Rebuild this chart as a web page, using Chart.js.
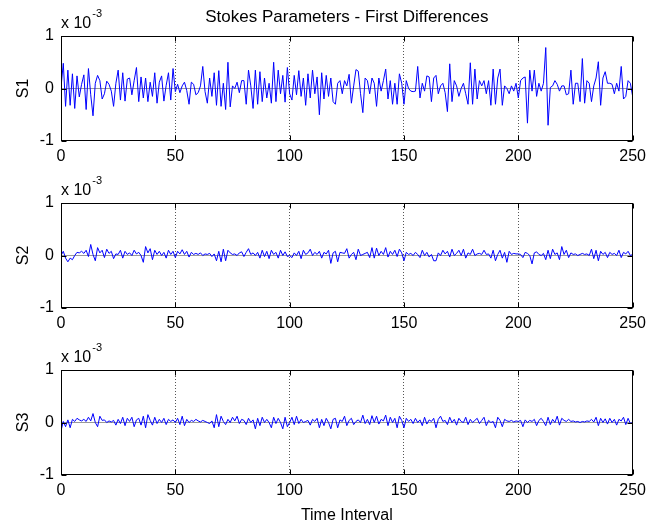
<!DOCTYPE html>
<html>
<head>
<meta charset="utf-8">
<script src="https://cdn.jsdelivr.net/npm/chart.js@4.4.0/dist/chart.umd.min.js"></script>
<style>
    html, body { margin: 0; padding: 0; background: #fff; }
    #wrap { position: relative; width: 652px; height: 527px; overflow: hidden; }
    canvas { position: absolute; left: 0; }
</style>
</head>
<body>
<div id="wrap">
    <canvas id="c1" width="652" height="170" style="top:0px"></canvas>
    <canvas id="c2" width="652" height="170" style="top:167px"></canvas>
    <canvas id="c3" width="652" height="193" style="top:334px"></canvas>
</div>
<script>
// values are in units of 1e-3 (axis label "x 10^-3")
const xTicks = [0, 50, 100, 150, 200, 250];
const yTicks = [-1, 0, 1];
const seriesNames = ['S1', 'S2', 'S3'];

const s1 = [
    0.02, 0.48, -0.34, 0.35, -0.32, 0.28, -0.38, 0.24, -0.16, 0.08,
    0.26, -0.40, 0.38, -0.12, -0.52, 0.10, 0.25, 0.15, -0.20, -0.10,
    0.14, 0.08, -0.05, -0.34, 0.10, 0.35, -0.22, 0.30, -0.24, 0.18,
    0.20, -0.12, 0.15, 0.40, -0.25, 0.22, -0.18, 0.20, -0.25, 0.12,
    -0.15, 0.30, -0.28, 0.12, 0.24, -0.24, 0.06, 0.30, -0.22, 0.38,
    -0.06, 0.08, -0.08, 0.05, 0.12, -0.04, -0.30, 0.12, 0.08, -0.12,
    -0.08, 0.05, 0.42, -0.06, -0.28, 0.20, -0.15, 0.30, -0.32, 0.34,
    -0.34, 0.10, -0.40, 0.50, -0.35, 0.05, 0.00, 0.12, -0.08, 0.15,
    0.15, -0.30, 0.35, 0.05, -0.38, 0.35, -0.30, 0.32, -0.25, 0.20,
    -0.18, 0.10, -0.28, 0.50, -0.25, 0.35, -0.10, 0.25, -0.26, 0.40,
    -0.10, -0.22, 0.25, -0.12, 0.34, -0.15, 0.20, -0.32, 0.28, -0.18,
    0.35, -0.10, 0.22, -0.50, 0.30, -0.20, 0.25, -0.15, 0.20, -0.25,
    -0.30, 0.10, 0.15, -0.10, 0.15, 0.05, 0.27, -0.28, 0.05, 0.36,
    0.33, -0.10, -0.46, 0.20, 0.15, -0.10, 0.20, 0.10, -0.34, 0.20,
    -0.05, 0.15, 0.37, -0.20, 0.15, -0.30, 0.10, -0.30, 0.28, 0.10,
    -0.30, 0.15, 0.00, -0.05, -0.06, -0.05, 0.42, -0.18, 0.10, -0.05,
    0.24, 0.22, -0.25, 0.20, 0.25, -0.10, 0.05, 0.10, -0.08, -0.44,
    0.47, -0.25, 0.15, 0.05, -0.15, 0.00, 0.10, -0.10, -0.30, 0.49,
    -0.30, 0.37, -0.20, 0.15, 0.05, 0.15, -0.10, 0.15, -0.32, 0.37,
    -0.30, 0.20, 0.37, -0.32, 0.05, 0.00, -0.10, 0.05, -0.05, 0.10,
    -0.18, 0.15, 0.20, 0.22, -0.66, 0.35, -0.05, 0.35, -0.15, 0.10,
    -0.05, 0.10, 0.78, -0.70, 0.02, 0.05, 0.15, 0.08, -0.05, 0.05,
    0.05, -0.12, -0.10, 0.35, -0.30, 0.10, 0.10, -0.25, 0.57, -0.28,
    0.15, 0.10, -0.25, 0.05, 0.20, 0.51, -0.32, 0.20, 0.32, 0.10,
    0.10, 0.08, -0.10, 0.10, -0.05, 0.42, -0.20, -0.15, 0.15, 0.10,
    -0.15
];

const s2 = [
    0.00, 0.08, -0.05, -0.12, -0.05, -0.08, 0.00, 0.06, 0.05, 0.08,
    0.04, 0.10, -0.02, 0.21, 0.02, -0.10, 0.15, 0.05, 0.10, -0.04,
    0.12, 0.04, 0.08, -0.06, 0.03, 0.02, 0.10, -0.05, 0.08, 0.02,
    0.05, 0.00, 0.10, 0.03, 0.06, 0.00, -0.13, 0.17, 0.05, 0.13,
    -0.08, 0.10, 0.02, 0.08, 0.00, 0.06, -0.05, 0.10, 0.02, 0.08,
    -0.04, 0.08, 0.03, 0.11, 0.02, 0.08, -0.03, 0.06, 0.02, 0.04,
    0.02, 0.05, 0.00, 0.03, 0.02, 0.04, -0.02, 0.03, -0.10, 0.08,
    -0.12, 0.12, -0.10, 0.10, 0.05, 0.02, 0.03, 0.00, 0.05, 0.07,
    -0.02, 0.06, 0.13, 0.02, 0.05, 0.00, 0.06, -0.05, 0.10, -0.02,
    0.08, -0.06, 0.10, 0.02, 0.06, -0.05, 0.10, 0.00, 0.07, -0.02,
    0.00, -0.04, 0.05, 0.00, 0.08, -0.06, 0.10, 0.02, 0.05, 0.12,
    0.00, 0.06, 0.02, 0.08, -0.05, 0.06, 0.03, 0.10, -0.15, 0.05,
    0.08, -0.12, 0.06, 0.05, 0.04, 0.13, -0.05, 0.02, 0.06, -0.08,
    0.12, 0.00, 0.02, 0.04, 0.06, -0.04, 0.15, -0.05, 0.14, 0.00,
    0.08, 0.02, 0.15, -0.03, 0.08, 0.02, 0.10, -0.02, 0.12, 0.05,
    -0.10, 0.06, 0.02, 0.04, 0.00, 0.06, 0.02, -0.04, 0.10, 0.00,
    0.06, -0.03, 0.02, -0.10, -0.10, 0.05, 0.00, 0.10, 0.03, 0.08,
    -0.03, 0.12, 0.00, 0.04, 0.10, 0.00, 0.12, -0.05, 0.05, 0.02,
    0.12, 0.00, 0.03, 0.04, 0.02, 0.10, 0.02, 0.03, -0.05, 0.10,
    -0.10, 0.02, 0.10, -0.05, 0.06, -0.13, 0.08, 0.02, 0.04, 0.03,
    0.03, 0.02, -0.04, 0.06, 0.04, 0.00, -0.16, 0.05, 0.07, 0.02,
    0.00, 0.04, -0.08, 0.10, -0.06, 0.12, 0.02, 0.05, -0.08, 0.17,
    0.02, 0.10, -0.04, 0.05, 0.02, 0.03, 0.00, 0.02, 0.04, 0.02,
    0.03, 0.00, 0.12, -0.06, 0.10, -0.10, 0.08, 0.02, 0.06, -0.04,
    0.06, 0.02, 0.04, 0.00, 0.10, -0.04, 0.06, 0.03, 0.08, 0.00,
    0.02
];

const s3 = [
    -0.16, 0.02, -0.08, 0.05, -0.10, 0.06, 0.02, 0.08, 0.05, 0.03,
    0.06, 0.02, 0.10, 0.03, 0.17, 0.00, -0.08, 0.12, 0.04, 0.05,
    0.00, 0.03, 0.01, 0.04, -0.05, 0.06, -0.02, 0.10, -0.06, 0.08,
    0.02, 0.10, -0.08, 0.05, 0.08, -0.05, 0.12, -0.10, 0.15, 0.04,
    -0.05, 0.10, -0.02, 0.06, 0.00, 0.08, -0.04, 0.06, 0.02, 0.05,
    0.00, 0.08, -0.04, 0.12, -0.06, 0.06, 0.00, 0.04, 0.02, 0.06,
    0.03, 0.01, 0.04, 0.02, 0.00, -0.02, 0.03, -0.10, 0.15, -0.08,
    0.12, 0.02, -0.04, 0.06, 0.00, 0.10, 0.03, 0.12, -0.02, 0.06,
    0.04, -0.04, 0.08, 0.00, 0.05, -0.12, 0.08, -0.06, 0.10, 0.00,
    0.06, 0.00, -0.10, 0.10, -0.02, 0.08, 0.00, -0.12, 0.10, -0.08,
    0.00, 0.10, -0.04, 0.12, -0.02, 0.06, 0.00, 0.02, 0.04, -0.05,
    0.06, 0.02, 0.08, -0.10, 0.06, -0.06, 0.08, 0.00, -0.12, 0.06,
    0.08, -0.10, 0.05, 0.02, 0.12, -0.06, 0.04, 0.08, -0.04, 0.02,
    0.05, 0.00, 0.14, -0.02, 0.06, -0.04, 0.13, 0.00, 0.12, -0.03,
    0.06, 0.03, 0.14, -0.06, 0.10, 0.00, 0.08, -0.10, 0.12, 0.04,
    -0.10, 0.08, 0.02, 0.06, -0.02, 0.08, 0.00, 0.05, -0.06, 0.10,
    -0.03, 0.05, 0.02, 0.08, -0.10, 0.06, 0.12, 0.02, 0.04, -0.04,
    0.10, 0.00, 0.06, -0.05, 0.08, 0.02, 0.00, 0.10, -0.04, 0.06,
    0.00, 0.04, 0.08, -0.02, 0.04, 0.10, -0.06, 0.04, 0.00, 0.02,
    -0.10, 0.10, 0.04, -0.08, 0.06, 0.03, 0.02, 0.04, 0.01, 0.03,
    0.02, 0.04, -0.08, 0.05, 0.00, 0.04, 0.02, 0.06, -0.06, 0.04,
    0.08, 0.02, -0.06, 0.10, -0.04, 0.06, 0.00, 0.12, -0.05, 0.08,
    0.04, 0.02, 0.06, 0.02, 0.03, 0.01, 0.02, 0.00, 0.02, 0.01,
    0.03, 0.02, 0.06, 0.01, 0.10, -0.06, 0.08, 0.00, 0.07, -0.03,
    0.08, 0.00, 0.06, -0.05, 0.06, 0.03, 0.10, -0.04, 0.08, -0.02,
    0.00
];

const FONT = '"Liberation Sans", Arial, sans-serif';

// matlab-like box with inward ticks and the "x 10^-3" multiplier
const boxPlugin = {
    id: 'box',
    afterDatasetsDraw(chart) {
        const {ctx, chartArea: a, scales: {x, y}} = chart;
        const L = Math.round(a.left) + 0.5, R = Math.round(a.right) - 0.5;
        const T = Math.round(a.top) + 0.5, B = Math.round(a.bottom) - 0.5;
        ctx.save();
        ctx.strokeStyle = '#000';
        ctx.lineWidth = 1;
        ctx.strokeRect(L, T, R - L, B - T);
        ctx.beginPath();
        xTicks.forEach(v => {
            const px = Math.round(x.getPixelForValue(v)) + 0.5;
            ctx.moveTo(px, T); ctx.lineTo(px, T + 5);
            ctx.moveTo(px, B); ctx.lineTo(px, B - 5);
        });
        yTicks.forEach(v => {
            const py = Math.round(y.getPixelForValue(v)) + 0.5;
            ctx.moveTo(L, py); ctx.lineTo(L + 5, py);
            ctx.moveTo(R, py); ctx.lineTo(R - 5, py);
        });
        ctx.stroke();

        ctx.fillStyle = '#000';
        ctx.textBaseline = 'alphabetic';
        ctx.textAlign = 'left';
        ctx.font = '16px ' + FONT;
        const base = 'x 10';
        ctx.fillText(base, a.left, a.top - 8);
        const w = ctx.measureText(base).width;
        ctx.font = '11px ' + FONT;
        ctx.fillText('-3', a.left + w + 1, a.top - 19);
        ctx.restore();
    }
};

function makeChart(id, name, values, isLast, isFirst) {
    const points = values.map((v, i) => ({x: i, y: v}));
    return new Chart(document.getElementById(id), {
        type: 'line',
        data: {
            datasets: [{
                label: name,
                data: points,
                borderColor: '#0000ff',
                borderWidth: 1,
                pointRadius: 0,
                tension: 0,
                fill: false
            }]
        },
        options: {
            responsive: false,
            animation: false,
            layout: {padding: {top: isFirst ? 0 : 36, right: 16, left: 0, bottom: 0}},
            plugins: {
                legend: {display: false},
                tooltip: {enabled: false},
                title: {
                    display: isFirst,
                    text: 'Stokes Parameters - First Differences',
                    fullSize: false,
                    color: '#000',
                    font: {family: FONT, size: 17, weight: 'normal', lineHeight: 1.2},
                    padding: {top: 7, bottom: 8.6}
                }
            },
            scales: {
                x: {
                    type: 'linear',
                    min: 0,
                    max: 250,
                    afterBuildTicks: s => { s.ticks = xTicks.map(v => ({value: v})); },
                    afterFit: s => { s.height = isLast ? 52 : 29; },
                    grid: {
                        display: true,
                        drawTicks: false,
                        color: '#555',
                        lineWidth: 1
                    },
                    border: {display: false, dash: [1, 2]},
                    ticks: {
                        color: '#000',
                        padding: 6,
                        maxRotation: 0,
                        font: {family: FONT, size: 16}
                    },
                    title: {
                        display: isLast,
                        text: 'Time Interval',
                        color: '#000',
                        font: {family: FONT, size: 16},
                        padding: {top: 0, bottom: 2}
                    }
                },
                y: {
                    min: -1,
                    max: 1,
                    afterBuildTicks: s => { s.ticks = yTicks.map(v => ({value: v})); },
                    afterFit: s => { s.width = 61; },
                    grid: {
                        drawTicks: false,
                        color: ctx => ctx.tick && ctx.tick.value === 0 ? '#999' : 'rgba(0,0,0,0)',
                        lineWidth: 1
                    },
                    border: {display: false},
                    ticks: {
                        color: '#000',
                        padding: 7,
                        font: {family: FONT, size: 16}
                    },
                    title: {
                        display: true,
                        text: name,
                        color: '#000',
                        font: {family: FONT, size: 16},
                        padding: {top: 14, bottom: 0}
                    }
                }
            }
        },
        plugins: [boxPlugin]
    });
}

makeChart('c1', seriesNames[0], s1, false, true);
makeChart('c2', seriesNames[1], s2, false, false);
makeChart('c3', seriesNames[2], s3, true, false);
</script>
</body>
</html>
